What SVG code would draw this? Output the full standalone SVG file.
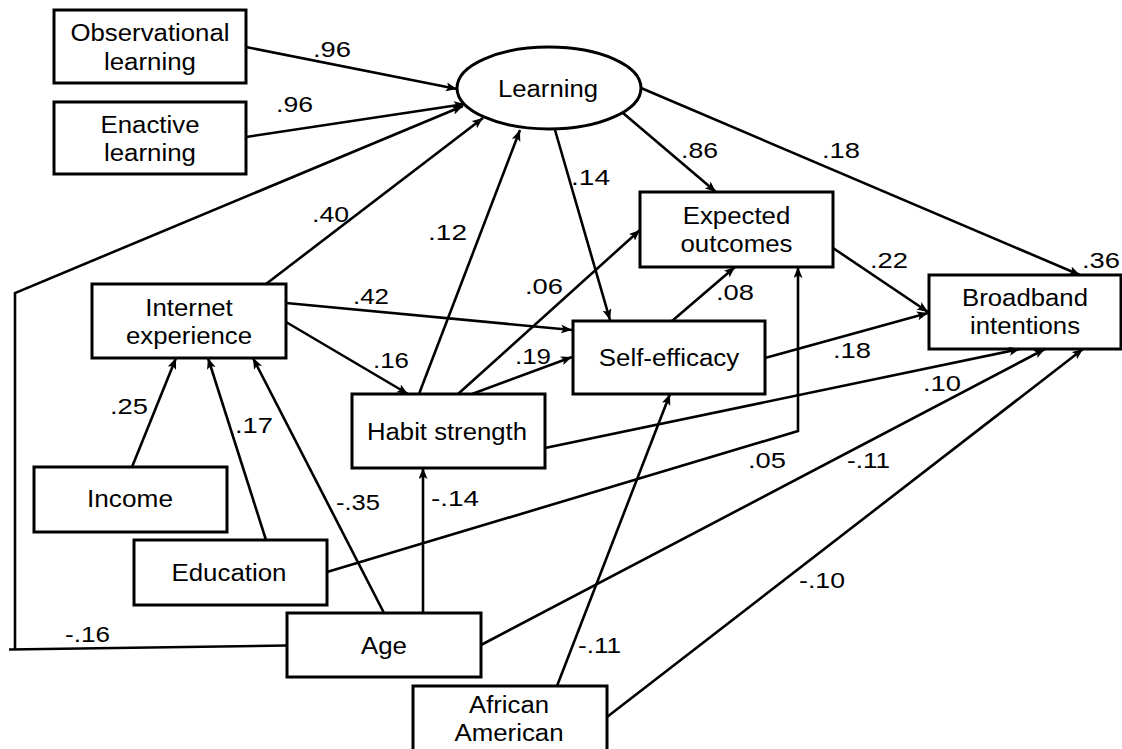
<svg xmlns="http://www.w3.org/2000/svg" width="1122" height="749" viewBox="0 0 1122 749">
<style>
.box{fill:#fff;stroke:#000;stroke-width:3}
.lbl{font-family:"Liberation Sans",Arial,sans-serif;font-size:23px;fill:#000;text-anchor:middle}
.num{font-family:"Liberation Sans",Arial,sans-serif;font-size:22px;fill:#000}
.edge{fill:none;stroke:#000;stroke-width:2.6;marker-end:url(#ah)}
.plain{fill:none;stroke:#000;stroke-width:2.6}
</style>
<defs>
<marker id="ah" markerUnits="userSpaceOnUse" markerWidth="12" markerHeight="10" refX="11" refY="4.5" orient="auto">
<path d="M0,0 L11,4.5 L0,9 L2.5,4.5 z" fill="#000"/>
</marker>
</defs>
<rect width="1122" height="749" fill="#fff"/>

<g id="observational">
<rect class="box" x="54" y="10" width="192" height="73"/>
<text class="lbl" x="150" y="41" textLength="159" lengthAdjust="spacingAndGlyphs">Observational</text>
<text class="lbl" x="150" y="70" textLength="92" lengthAdjust="spacingAndGlyphs">learning</text>
</g>
<g id="enactive">
<rect class="box" x="54" y="102" width="192" height="72"/>
<text class="lbl" x="150" y="132.5" textLength="99" lengthAdjust="spacingAndGlyphs">Enactive</text>
<text class="lbl" x="150" y="161" textLength="92" lengthAdjust="spacingAndGlyphs">learning</text>
</g>
<g id="learning">
<ellipse class="box" cx="549" cy="88" rx="92" ry="41"/>
<text class="lbl" x="548" y="97" textLength="100" lengthAdjust="spacingAndGlyphs">Learning</text>
</g>
<g id="internet">
<rect class="box" x="92" y="284" width="194" height="74"/>
<text class="lbl" x="189" y="315.5" textLength="87.5" lengthAdjust="spacingAndGlyphs">Internet</text>
<text class="lbl" x="189" y="344" textLength="126" lengthAdjust="spacingAndGlyphs">experience</text>
</g>
<g id="expected">
<rect class="box" x="640" y="192" width="193" height="75"/>
<text class="lbl" x="736.5" y="223.5" textLength="107.5" lengthAdjust="spacingAndGlyphs">Expected</text>
<text class="lbl" x="736.5" y="252" textLength="112" lengthAdjust="spacingAndGlyphs">outcomes</text>
</g>
<g id="broadband">
<rect class="box" x="929" y="275" width="192" height="74"/>
<text class="lbl" x="1025" y="305.5" textLength="126" lengthAdjust="spacingAndGlyphs">Broadband</text>
<text class="lbl" x="1025" y="334" textLength="110" lengthAdjust="spacingAndGlyphs">intentions</text>
</g>
<g id="selfefficacy">
<rect class="box" x="573" y="321" width="192" height="73"/>
<text class="lbl" x="669" y="366" textLength="140.5" lengthAdjust="spacingAndGlyphs">Self-efficacy</text>
</g>
<g id="habit">
<rect class="box" x="352" y="394" width="193" height="74"/>
<text class="lbl" x="447" y="439.5" textLength="160" lengthAdjust="spacingAndGlyphs">Habit strength</text>
</g>
<g id="income">
<rect class="box" x="34" y="467" width="193" height="65"/>
<text class="lbl" x="130" y="507" textLength="86" lengthAdjust="spacingAndGlyphs">Income</text>
</g>
<g id="education">
<rect class="box" x="134" y="540" width="193" height="65"/>
<text class="lbl" x="229" y="580.5" textLength="115" lengthAdjust="spacingAndGlyphs">Education</text>
</g>
<g id="age">
<rect class="box" x="287" y="613" width="194" height="64"/>
<text class="lbl" x="384" y="654" textLength="46" lengthAdjust="spacingAndGlyphs">Age</text>
</g>
<g id="african">
<rect class="box" x="413" y="686" width="194" height="80"/>
<text class="lbl" x="509" y="713" textLength="80" lengthAdjust="spacingAndGlyphs">African</text>
<text class="lbl" x="509" y="741" textLength="109" lengthAdjust="spacingAndGlyphs">American</text>
</g>

<g id="connectors">
<path class="edge" d="M246,47 L457,89"/>
<path class="edge" d="M246,137 L465,104"/>
<path class="plain" d="M287,645.5 L9,649.5"/>
<path class="edge" d="M15,649.5 L15,293 L463,106"/>
<path class="edge" d="M266,284 L483,118"/>
<path class="edge" d="M419,394 L520,130"/>
<path class="edge" d="M555,130 L610,320"/>
<path class="edge" d="M623,113 L716,192"/>
<path class="edge" d="M641,88 L1080,275"/>
<path class="edge" d="M833,248 L928,312"/>
<path class="edge" d="M672,321 L735,267"/>
<path class="edge" d="M765,358 L928,313"/>
<path class="edge" d="M286,303 L572,330"/>
<path class="edge" d="M286,322 L408,394"/>
<path class="edge" d="M472,394 L572,357"/>
<path class="edge" d="M458,394 L640,230"/>
<path class="edge" d="M545,448 L1020,349"/>
<path class="edge" d="M327,572 L798,431 L798,267"/>
<path class="edge" d="M481,645 L1045,349"/>
<path class="edge" d="M607,717 L1083,349"/>
<path class="edge" d="M557,686 L670,394"/>
<path class="edge" d="M423,613 L423,468"/>
<path class="edge" d="M384,613 L253,358"/>
<path class="edge" d="M132,467 L176,358"/>
<path class="edge" d="M266,540 L208,358"/>
</g>

<g id="labels">
<text class="num" x="313" y="57" textLength="38" lengthAdjust="spacingAndGlyphs">.96</text>
<text class="num" x="276" y="112" textLength="37" lengthAdjust="spacingAndGlyphs">.96</text>
<text class="num" x="312" y="222" textLength="37" lengthAdjust="spacingAndGlyphs">.40</text>
<text class="num" x="428" y="240" textLength="39" lengthAdjust="spacingAndGlyphs">.12</text>
<text class="num" x="571" y="185" textLength="39" lengthAdjust="spacingAndGlyphs">.14</text>
<text class="num" x="681" y="158" textLength="37" lengthAdjust="spacingAndGlyphs">.86</text>
<text class="num" x="822" y="158" textLength="38" lengthAdjust="spacingAndGlyphs">.18</text>
<text class="num" x="1082" y="268" textLength="38" lengthAdjust="spacingAndGlyphs">.36</text>
<text class="num" x="870" y="268" textLength="38" lengthAdjust="spacingAndGlyphs">.22</text>
<text class="num" x="716" y="300" textLength="38" lengthAdjust="spacingAndGlyphs">.08</text>
<text class="num" x="833" y="358" textLength="38" lengthAdjust="spacingAndGlyphs">.18</text>
<text class="num" x="353" y="304" textLength="36" lengthAdjust="spacingAndGlyphs">.42</text>
<text class="num" x="373" y="368" textLength="36" lengthAdjust="spacingAndGlyphs">.16</text>
<text class="num" x="515" y="364" textLength="36" lengthAdjust="spacingAndGlyphs">.19</text>
<text class="num" x="525" y="294" textLength="38" lengthAdjust="spacingAndGlyphs">.06</text>
<text class="num" x="923" y="391" textLength="38" lengthAdjust="spacingAndGlyphs">.10</text>
<text class="num" x="748" y="468" textLength="38" lengthAdjust="spacingAndGlyphs">.05</text>
<text class="num" x="847" y="468" textLength="43" lengthAdjust="spacingAndGlyphs">-.11</text>
<text class="num" x="799" y="588" textLength="46" lengthAdjust="spacingAndGlyphs">-.10</text>
<text class="num" x="578" y="653" textLength="43" lengthAdjust="spacingAndGlyphs">-.11</text>
<text class="num" x="431" y="506" textLength="48" lengthAdjust="spacingAndGlyphs">-.14</text>
<text class="num" x="336" y="510" textLength="44" lengthAdjust="spacingAndGlyphs">-.35</text>
<text class="num" x="110" y="414" textLength="38" lengthAdjust="spacingAndGlyphs">.25</text>
<text class="num" x="235" y="433" textLength="38" lengthAdjust="spacingAndGlyphs">.17</text>
<text class="num" x="65" y="642" textLength="45" lengthAdjust="spacingAndGlyphs">-.16</text>
</g>
</svg>
